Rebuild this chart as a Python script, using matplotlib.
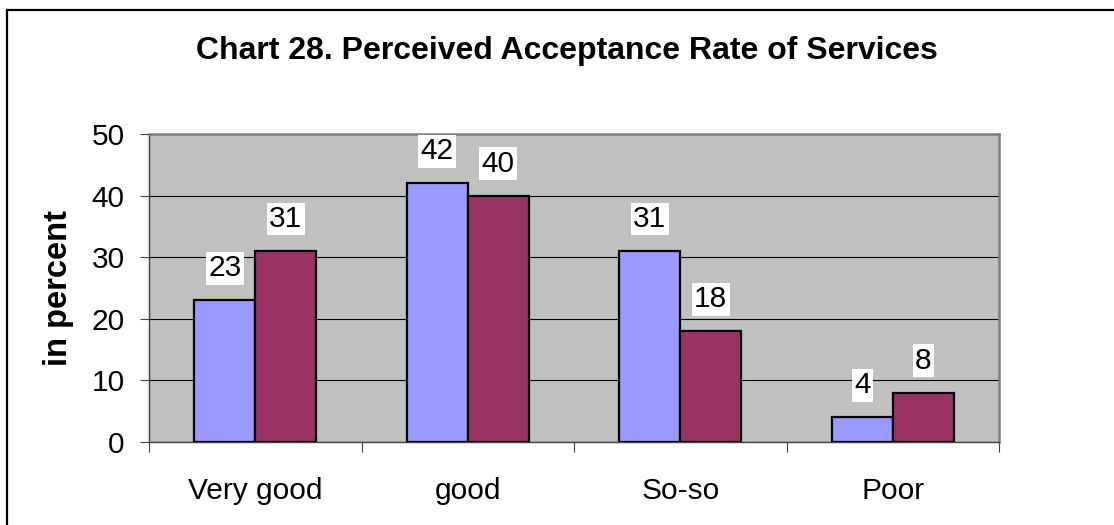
import matplotlib.pyplot as plt
from matplotlib.lines import Line2D
import numpy as np

categories = ["Very good", "good", "So-so", "Poor"]
series_a = [23, 42, 31, 4]
series_b = [31, 40, 18, 8]
y_ticks = [0, 10, 20, 30, 40, 50]

plt.rcParams['font.family'] = ['Liberation Sans', 'DejaVu Sans']

fig = plt.figure(figsize=(11.14, 5.25), dpi=100)
# chart frame: only top and left edges are visible in the original crop
fig.lines.append(Line2D([7 / 1114, 1.0], [1 - 10 / 525, 1 - 10 / 525],
                        transform=fig.transFigure, color='black', linewidth=1.6))
fig.lines.append(Line2D([7 / 1114, 7 / 1114], [0.0, 1 - 10 / 525],
                        transform=fig.transFigure, color='black', linewidth=1.6))

ax = fig.add_axes([149 / 1114, 83 / 525, 850 / 1114, 308 / 525])
ax.set_facecolor('#C0C0C0')

x = np.arange(len(categories))
w = 0.287
bars_a = ax.bar(x - w / 2, series_a, w, color='#9999FF', edgecolor='black', linewidth=1.6, zorder=3)
bars_b = ax.bar(x + w / 2, series_b, w, color='#993366', edgecolor='black', linewidth=1.6, zorder=3)

for bars, vals in ((bars_a, series_a), (bars_b, series_b)):
    for b, v in zip(bars, vals):
        ax.annotate(str(v), (b.get_x() + b.get_width() / 2, v), xytext=(0, 23),
                    textcoords='offset points', ha='center', va='center', fontsize=21.5,
                    bbox=dict(boxstyle='square,pad=0.08', facecolor='white', edgecolor='none'),
                    zorder=4)

ax.set_xlim(-0.5, len(categories) - 0.5)
ax.set_ylim(0, 50)
ax.set_yticks(y_ticks)
ax.set_yticklabels([str(t) for t in y_ticks], fontsize=21.5)
ax.yaxis.grid(True, color='black', linewidth=0.8, zorder=1)
ax.set_axisbelow(True)

ax.set_xticks(np.arange(len(categories) + 1) - 0.5)
ax.set_xticklabels([])
ax.set_xticks(x, minor=True)
ax.set_xticklabels(categories, minor=True, fontsize=21.5)
ax.tick_params(axis='x', which='minor', length=0, pad=25)
ax.tick_params(axis='x', which='major', length=7, color='#404040')
ax.tick_params(axis='y', length=6.5, color='#404040', pad=11)

for s in ('top', 'right'):
    ax.spines[s].set_color('#808080')
    ax.spines[s].set_linewidth(1.8)
for s in ('left', 'bottom'):
    ax.spines[s].set_color('#404040')
    ax.spines[s].set_linewidth(1.0)

fig.text(59 / 1114, 1 - 288 / 525, "in percent", rotation=90, ha='center', va='center',
         fontsize=23.5, fontweight='bold')
fig.text(567 / 1114, 1 - 59 / 525, "Chart 28. Perceived Acceptance Rate of Services",
         ha='center', va='baseline', fontsize=23, fontweight='bold')

fig.savefig("out.png", dpi=100)
